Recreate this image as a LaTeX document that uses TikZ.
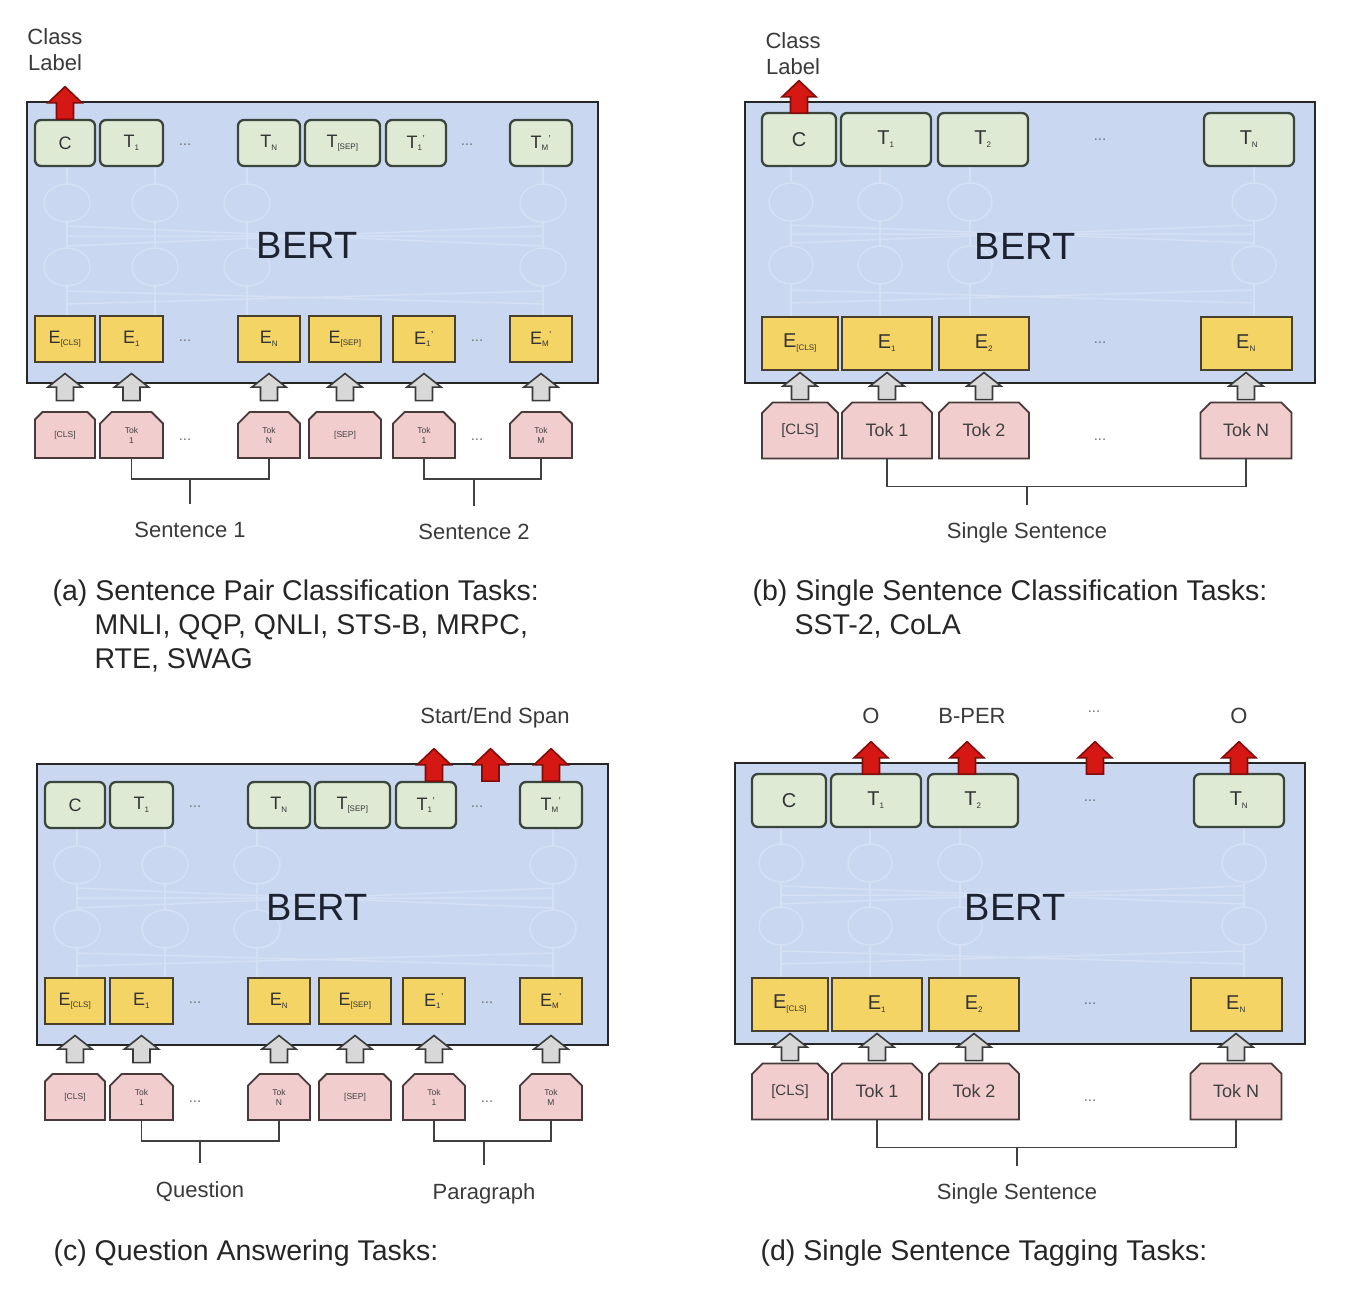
\documentclass[tikz,border=0pt]{standalone}
\usepackage{fontspec}
\setmainfont{Liberation Sans}
\usetikzlibrary{calc,shapes.misc}

\definecolor{bertblue}{RGB}{201,215,241}
\definecolor{netline}{RGB}{213,224,245}
\definecolor{outfill}{RGB}{222,234,212}
\definecolor{outdraw}{RGB}{58,70,60}
\definecolor{embfill}{RGB}{245,212,102}
\definecolor{embline}{RGB}{72,64,42}
\definecolor{tokfill}{RGB}{242,205,205}
\definecolor{tokline}{RGB}{72,58,58}
\definecolor{arrgrey}{RGB}{216,216,216}
\definecolor{arrline}{RGB}{58,58,58}
\definecolor{arrred}{RGB}{214,24,20}
\definecolor{arrdark}{RGB}{130,12,10}
\definecolor{labtext}{RGB}{58,58,58}
\definecolor{berttext}{RGB}{28,34,48}

\newcommand\sub[1]{\textsubscript{\fontsize{8}{8}\selectfont #1}}
\newcommand\pr{\textsuperscript{\fontsize{10}{10}\selectfont '}}

\tikzset{
  bertbox/.style={draw=black!85, line width=2.6pt, fill=bertblue},
  bertlbl/.style={font=\fontsize{38}{44}\selectfont, text=berttext},
  net/.style={draw=netline, line width=1.5pt},
  outbox/.style={draw=outdraw, fill=outfill, line width=2.3pt, rounded corners=6pt, inner sep=0pt, text=black!80},
  embbox/.style={draw=embline, fill=embfill, line width=2pt, inner sep=0pt, text=black!80},
  tokbox/.style={chamfered rectangle, chamfered rectangle corners={north west,north east},
    chamfered rectangle xsep=8pt, draw=tokline, fill=tokfill, line width=1.8pt, inner sep=0pt, text=black!75},
  dotsl/.style={text=black!55, font=\fontsize{15}{15}\selectfont, inner sep=1pt},
  brk/.style={draw=black!75, line width=1.8pt},
  sentlbl/.style={text=labtext, font=\fontsize{22}{26}\selectfont},
  toplbl/.style={text=labtext, font=\fontsize{22}{26}\selectfont},
  capt/.style={text=black!85, font=\fontsize{28.5}{34}\selectfont, align=left},
  inarr/.style={fill=arrgrey, draw=arrline, line width=1.6pt},
  outarr/.style={fill=arrred, draw=arrdark, line width=1.6pt, yscale=1.2},
  blockarr/.pic={\path[pic actions] (-8.5,13.5) -- (-8.5,0) -- (-17,0) -- (0,-13.5)
    -- (17,0) -- (8.5,0) -- (8.5,13.5) -- cycle;},
}

% two-segment panel, (a) and (c)
\newcommand{\pairpanel}[2]{%
  \node[bertbox, minimum width=571, minimum height=281] (bert) at (312.5,242.5) {};
  \foreach \cx in {67,155,247,543}
    \draw[net] (\cx,166) -- (\cx,316);
  \draw[net] (67,226) -- (543,246) (67,246) -- (543,226) (67,236) -- (543,236);
  \draw[net] (67,291) -- (543,304) (67,304) -- (543,291);
  \foreach \cx in {67,155,247,543} {
    \draw[net, fill=bertblue] (\cx,203) ellipse [x radius=23, y radius=19];
    \draw[net, fill=bertblue] (\cx,267) ellipse [x radius=23, y radius=19];
  }
  \node[bertlbl] (bertname) at (307,245) {BERT};
  \foreach \n/\px/\w/\lab in {c/65/60/C, t1/131.5/63/T\sub{1}, tn/269/62/T\sub{N},
      tsep/342.5/75/T\sub{[SEP]}, t1p/416/60/T\sub{1}\pr, tm/541/62/T\sub{M}\pr}
    \node[outbox, minimum width=\w, minimum height=46, font=\fontsize{18}{20}\selectfont] (\n) at (\px,143) {\lab};
  \foreach \n/\px/\w/\lab in {ecls/65/60/E\sub{[CLS]}, e1/131.5/63/E\sub{1}, en/269/62/E\sub{N},
      esep/345/72/E\sub{[SEP]}, e1p/424/62/E\sub{1}\pr, em/541/62/E\sub{M}\pr}
    \node[embbox, minimum width=\w, minimum height=46, font=\fontsize{18}{20}\selectfont] (\n) at (\px,339) {\lab};
  \foreach \n/\px/\w/\lab in {kcls/65/60/{[CLS]}, k1/131.5/63/Tok\\1, kn/269/62/Tok\\N,
      ksep/345/72/{[SEP]}, k1p/424/62/Tok\\1, km/541/62/Tok\\M}
    \node[tokbox, minimum width=\w, minimum height=46, align=center, font=\fontsize{8.5}{10}\selectfont] (\n) at (\px,435) {\lab};
  \node[dotsl] (gd1) at (185,145) {...};
  \node[dotsl] (gd2) at (467,145) {...};
  \node[dotsl] (ed1) at (185,341) {...};
  \node[dotsl] (ed2) at (477,341) {...};
  \node[dotsl] (kd1) at (185,440) {...};
  \node[dotsl] (kd2) at (477,440) {...};
  \foreach \s in {cls,1,n,sep,1p,m}
    \pic[inarr] at ($(k\s.north)!.5!(e\s.south)$) {blockarr};
  \draw[brk] (k1.south) -- ++(0,20) coordinate (l1) -| (kn.south);
  \draw[brk] (k1p.south) -- ++(0,20) coordinate (l2) -| (km.south);
  \node[sentlbl] (sent1) at (190,530) {#1};
  \node[sentlbl] (sent2) at (474,532) {#2};
  \draw[brk, shorten >=15pt] (sent1.north |- l1) -- (sent1.north);
  \draw[brk, shorten >=15pt] (sent2.north |- l2) -- (sent2.north);
}

% one-segment panel, (b) and (d)
\newcommand{\singlepanel}[1]{%
  \node[bertbox, minimum width=570, minimum height=281] (bert) at (1030,242.5) {};
  \foreach \cx in {791,880,970,1254}
    \draw[net] (\cx,167) -- (\cx,316);
  \draw[net] (791,225) -- (1254,243) (791,243) -- (1254,225) (791,234) -- (1254,234);
  \draw[net] (791,290) -- (1254,303) (791,303) -- (1254,290);
  \foreach \cx in {791,880,970,1254} {
    \draw[net, fill=bertblue] (\cx,202) ellipse [x radius=22, y radius=19];
    \draw[net, fill=bertblue] (\cx,265) ellipse [x radius=22, y radius=19];
  }
  \node[bertlbl] (bertname) at (1025,246) {BERT};
  \foreach \n/\px/\w/\lab in {c/799/74/C, t1/886/90/T\sub{1}, t2/983/90/T\sub{2}, tn/1249/90/T\sub{N}}
    \node[outbox, minimum width=\w, minimum height=53, font=\fontsize{20}{22}\selectfont] (\n) at (\px,139.5) {\lab};
  \foreach \n/\px/\w/\lab in {ecls/800/76/E\sub{[CLS]}, e1/887/90/E\sub{1}, e2/984/90/E\sub{2}, en/1246/91/E\sub{N}}
    \node[embbox, minimum width=\w, minimum height=53, font=\fontsize{20}{22}\selectfont] (\n) at (\px,343) {\lab};
  \foreach \n/\px/\w/\lab in {kcls/800/76/{\fontsize{15}{16}\selectfont[CLS]}, k1/887/90/Tok 1, k2/984/90/Tok 2, kn/1246/91/Tok N}
    \node[tokbox, minimum width=\w, minimum height=56, font=\fontsize{18}{20}\selectfont] (\n) at (\px,430.5) {\lab};
  \node[dotsl] (gd) at (1100,140) {...};
  \node[dotsl] (ed) at (1100,343) {...};
  \node[dotsl] (kd) at (1100,440) {...};
  \foreach \s in {cls,1,2,n}
    \pic[inarr] at ($(k\s.north)!.5!(e\s.south)$) {blockarr};
  \draw[brk] (k1.south) -- ++(0,27) coordinate (l1) -| (kn.south);
  \node[sentlbl] (sent) at (1027,533) {#1};
  \draw[brk, shorten >=14pt] (sent.north |- l1) -- (sent.north);
}

\begin{document}
\begin{tikzpicture}[x=1pt, y=-1pt]
\fill[white] (0,0) rectangle (1354,1298);
\useasboundingbox (0,0) rectangle (1354,1298);

\begin{scope}[name prefix=a-]
  \pairpanel{Sentence 1}{Sentence 2}
\end{scope}
\begin{scope}[name prefix=b-]
  \singlepanel{Single Sentence}
\end{scope}
\begin{scope}[name prefix=c-, shift={(10,662)}]
  \pairpanel{Question}{Paragraph}
\end{scope}
\begin{scope}[name prefix=d-, shift={(-10,661)}]
  \singlepanel{Single Sentence}
\end{scope}

% outputs
\pic[outarr] at ($(a-c.north)+(0,-16)$) {blockarr};
\node[toplbl, align=center] (a-lbl) at (55,50) {Class\\Label};
\pic[outarr] at ($(b-c.north)+(0,-15)$) {blockarr};
\node[toplbl, align=center] (b-lbl) at (793,54) {Class\\Label};

\pic[outarr] at ($(c-t1p.north)+(8,-16)$) {blockarr};
\pic[outarr] at ($(c-t1p.north)!.5!(c-tm.north)+(2,-16)$) {blockarr};
\pic[outarr] at ($(c-tm.north)+(0,-16)$) {blockarr};
\node[toplbl] (c-span) at (495,718) {Start/End Span};

\pic[outarr] at ($(d-t1.north)+(-5,-15)$) {blockarr};
\pic[outarr] at ($(d-t2.north)+(-6,-15)$) {blockarr};
\pic[outarr] at ($(d-gd |- d-t1.north)+(5,-15)$) {blockarr};
\pic[outarr] at ($(d-tn.north)+(0,-15)$) {blockarr};
\node[toplbl] (d-o1) at (871,716) {O};
\node[toplbl] (d-bper) at (972,716) {B-PER};
\node[dotsl] (d-odots) at (1094,712) {...};
\node[toplbl] (d-on) at (1239,716) {O};

% captions
\node[capt, anchor=north west] (a-cap) at (49,576) {(a) Sentence Pair Classification Tasks:\\\hspace*{42pt}MNLI, QQP, QNLI, STS-B, MRPC,\\\hspace*{42pt}RTE, SWAG};
\node[capt, anchor=north west] (b-cap) at (749,576) {(b) Single Sentence Classification Tasks:\\\hspace*{42pt}SST-2, CoLA};
\node[capt, anchor=west] (c-cap) at (50,1253) {(c) Question Answering Tasks:};
\node[capt, anchor=west] (d-cap) at (757,1253) {(d) Single Sentence Tagging Tasks:};
\end{tikzpicture}
\end{document}
